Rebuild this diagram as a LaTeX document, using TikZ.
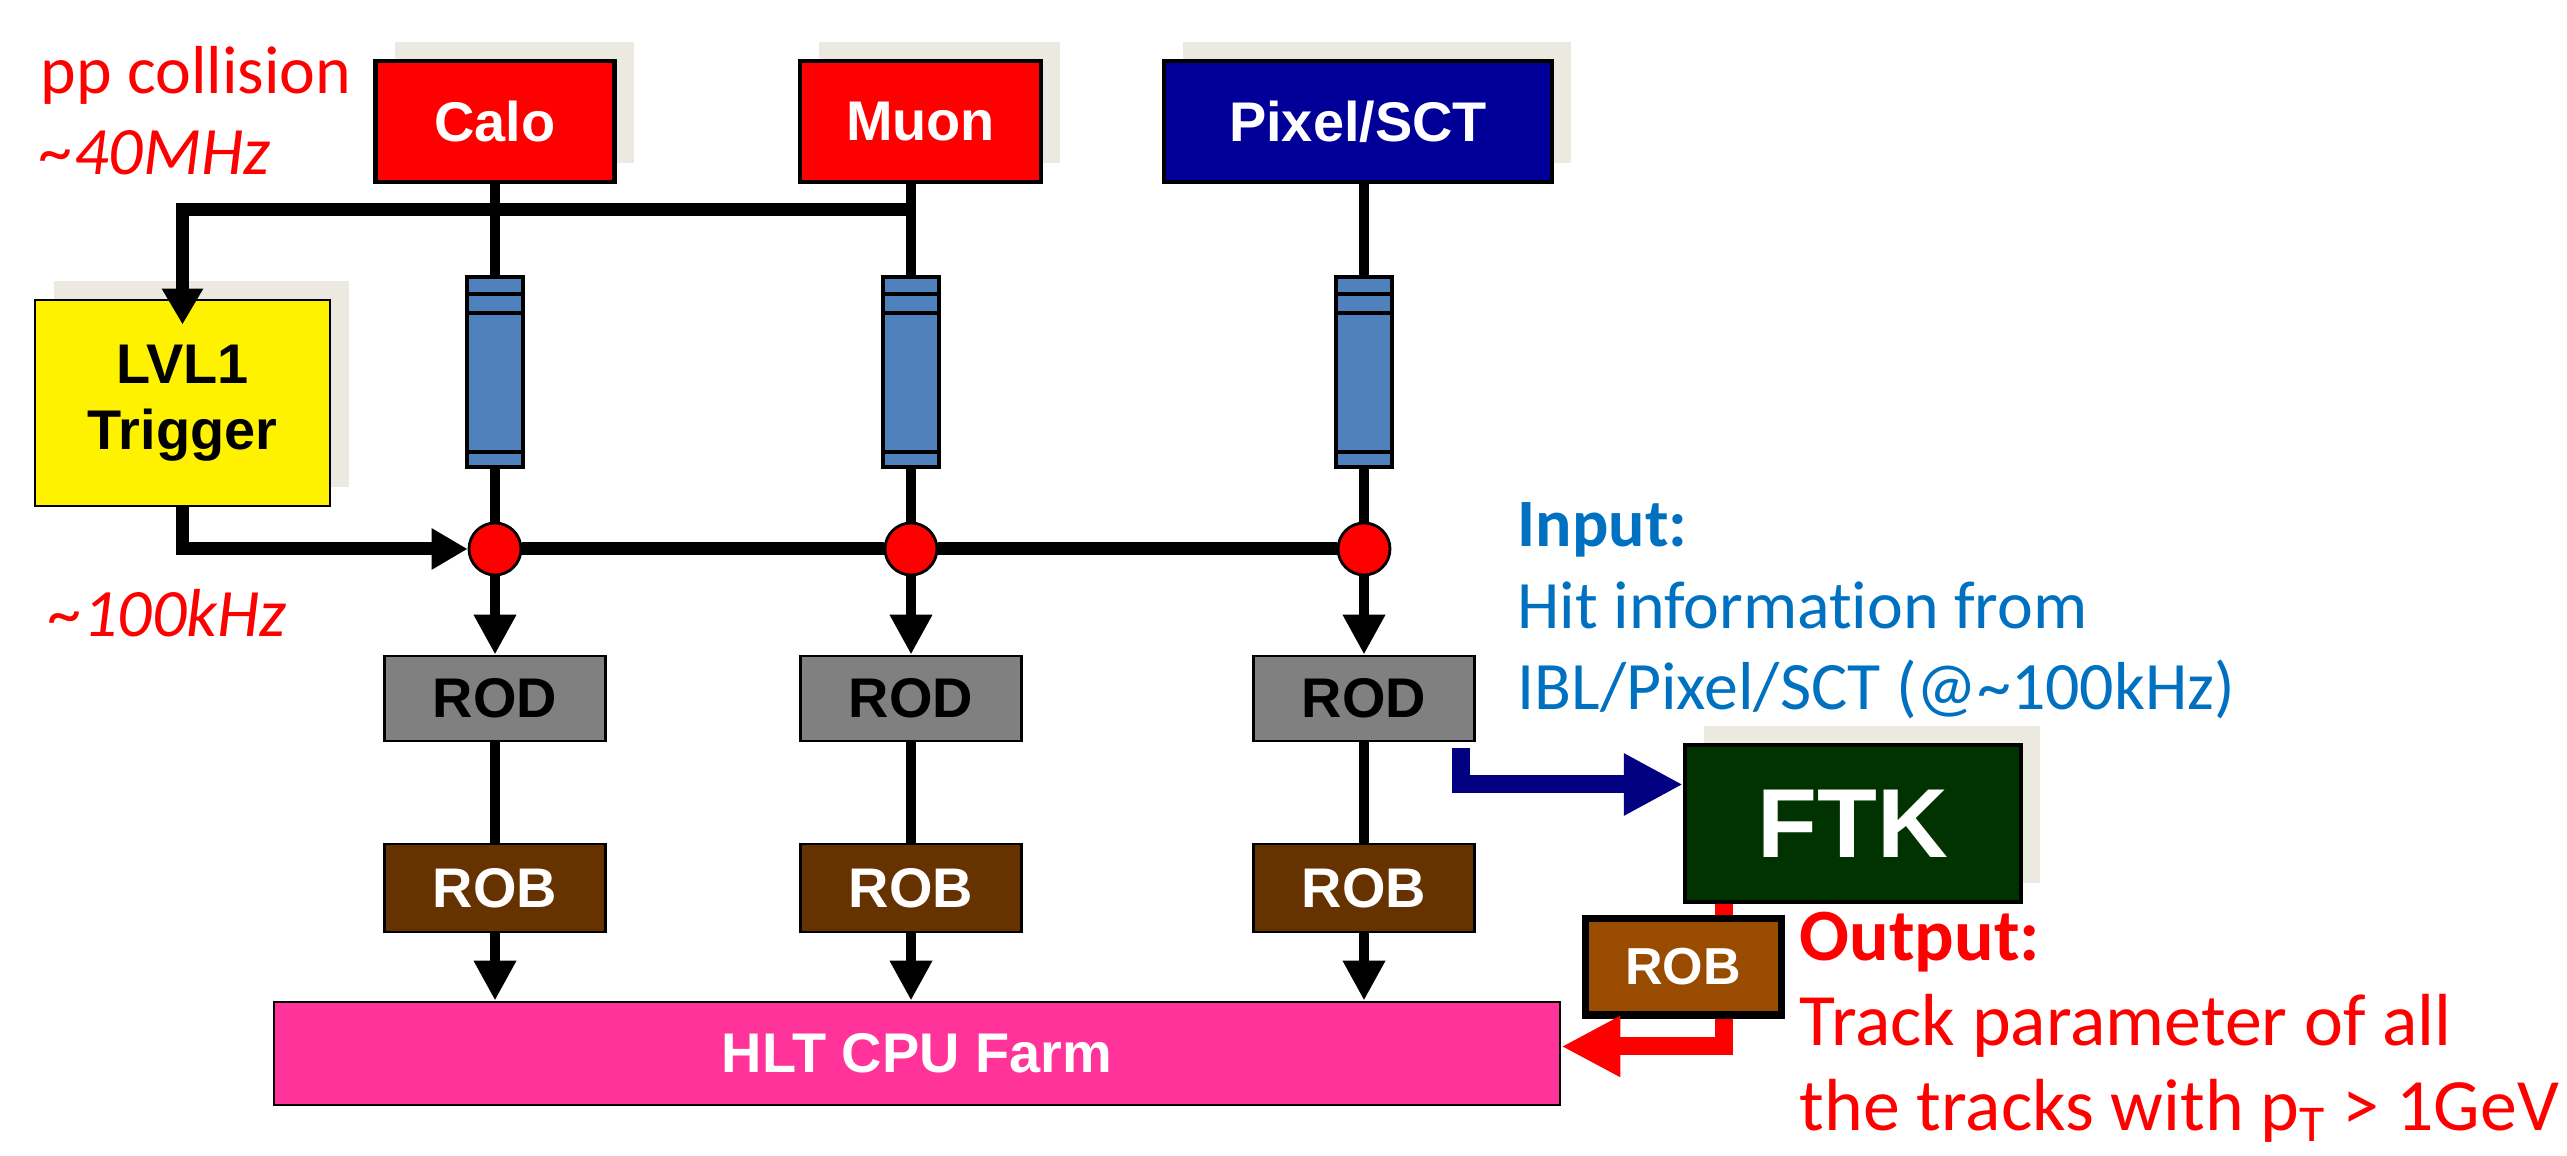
\documentclass[tikz,border=0pt]{standalone}
\usepackage{fontspec}
\setmainfont{Carlito}[Ligatures=NoCommon]
\newfontfamily\arialfont{Liberation Sans}
\usetikzlibrary{arrows.meta,shadows}

\definecolor{shadowbeige}{HTML}{ECEAE0}
\definecolor{pixelblue}{HTML}{000099}
\definecolor{pipeblue}{HTML}{4F81BD}
\definecolor{rodgray}{HTML}{808080}
\definecolor{robbrown}{HTML}{663300}
\definecolor{robamber}{HTML}{994C00}
\definecolor{farmpink}{HTML}{FF3399}
\definecolor{ftkgreen}{HTML}{003300}
\definecolor{linkblue}{HTML}{000080}
\definecolor{inputblue}{HTML}{0070C0}

\begin{document}
\begin{tikzpicture}[
    detector/.style={
        rectangle,
        draw,
        line width=1.2pt,
        minimum height=1.21cm,
        inner sep=0pt,
        text=white,
        font=\arialfont\bfseries\fontsize{15.9}{18.8}\selectfont,
        general shadow={fill=shadowbeige, shadow xshift=0.19cm, shadow yshift=0.19cm}
    },
    trigger/.style={
        detector,
        fill=yellow,
        text=black,
        line width=0.8pt,
        minimum width=2.95cm,
        minimum height=2.06cm,
        align=center
    },
    pipeline/.style={
        rectangle,
        draw,
        line width=1pt,
        fill=pipeblue,
        minimum width=0.56cm,
        minimum height=1.90cm,
        inner sep=0pt,
        path picture={
            \draw[line width=1pt]
                ([yshift=-0.17cm]path picture bounding box.north west) --
                ([yshift=-0.17cm]path picture bounding box.north east)
                ([yshift=-0.36cm]path picture bounding box.north west) --
                ([yshift=-0.36cm]path picture bounding box.north east)
                ([yshift=0.15cm]path picture bounding box.south west) --
                ([yshift=0.15cm]path picture bounding box.south east);
        }
    },
    junction/.style={
        circle,
        draw,
        line width=0.8pt,
        fill=red,
        minimum size=0.52cm,
        inner sep=0pt
    },
    rod/.style={
        rectangle,
        draw,
        line width=0.8pt,
        fill=rodgray,
        minimum width=2.21cm,
        minimum height=0.85cm,
        inner sep=0pt,
        font=\arialfont\bfseries\fontsize{15.9}{18.8}\selectfont
    },
    rob/.style={
        rod,
        fill=robbrown,
        text=white,
        minimum height=0.88cm
    },
    farm/.style={
        rod,
        fill=farmpink,
        text=white,
        minimum width=12.86cm,
        minimum height=1.03cm
    },
    tracker/.style={
        detector,
        fill=ftkgreen,
        minimum width=3.36cm,
        minimum height=1.57cm,
        font=\arialfont\bfseries\fontsize{27.9}{30}\selectfont
    },
    outrob/.style={
        rob,
        fill=robamber,
        line width=2pt,
        minimum width=1.96cm,
        minimum height=0.96cm,
        font=\arialfont\bfseries\fontsize{14.8}{17}\selectfont
    },
    link/.style={
        line width=0.1cm
    },
    flow/.style={
        link,
        -{Triangle[width=0.4cm,length=0.4cm]}
    },
    bus/.style={
        line width=0.13cm
    },
    busflow/.style={
        bus,
        -{Triangle[width=0.39cm,length=0.36cm]}
    },
    inputlink/.style={
        line width=0.18cm,
        linkblue,
        -{Triangle[width=0.58cm,length=0.59cm]}
    },
    outputlink/.style={
        line width=0.18cm,
        red,
        -{Triangle[width=0.57cm,length=0.59cm]}
    },
    note/.style={
        anchor=base west,
        align=left,
        inner sep=0pt,
        font=\fontsize{19.3}{23.3}\selectfont
    }
]

\useasboundingbox (0,0) rectangle (25.67,11.56);

\node[detector, fill=red, minimum width=2.39cm] (calo) at (4.95,10.345) {Calo};
\node[detector, fill=red, minimum width=2.41cm] (muon) at (9.205,10.345) {Muon};
\node[detector, fill=pixelblue, minimum width=3.88cm] (pixel) at (13.58,10.345) {Pixel/SCT};

\node[trigger] (lvl1) at (1.825,7.53) {
    LVL1\\
    Trigger
};

\node[pipeline] (pipeA) at (4.95,7.84) {};
\node[pipeline] (pipeB) at (9.11,7.84) {};
\node[pipeline] (pipeC) at (13.64,7.84) {};

\node[junction] (dotA) at (4.95,6.07) {};
\node[junction] (dotB) at (9.11,6.07) {};
\node[junction] (dotC) at (13.64,6.07) {};

\node[rod] (rodA) at (4.95,4.575) {ROD};
\node[rod] (rodB) at (9.11,4.575) {ROD};
\node[rod] (rodC) at (13.64,4.575) {ROD};

\node[rob] (robA) at (4.95,2.68) {ROB};
\node[rob] (robB) at (9.11,2.68) {ROB};
\node[rob] (robC) at (13.64,2.68) {ROB};

\node[farm] (hlt) at (9.17,1.025) {HLT CPU Farm};

\node[tracker] (ftk) at (18.53,3.325) {FTK};
\node[outrob] (robF) at (16.83,1.89) {ROB};

\coordinate (tapB) at (9.11,9.46);
\coordinate (bluex) at (14.61,0);
\coordinate (redx) at (17.24,0);

\draw[link] (calo) -- (pipeA);
\draw[link] (muon.south -| pipeB) -- (pipeB);
\draw[link] (pixel.south -| pipeC) -- (pipeC);
\draw[busflow, shorten >=-0.26cm] (tapB) -| (lvl1.north);

\foreach \col in {A,B,C} {
    \draw[link] (pipe\col) -- (dot\col);
    \draw[flow] (dot\col) -- (rod\col);
    \draw[link] (rod\col) -- (rob\col);
    \draw[flow] (rob\col) -- (rob\col |- hlt.north);
}

\draw[busflow] (lvl1.south) |- (dotA);
\draw[bus] (dotA) -- (dotB);
\draw[bus] (dotB) -- (dotC);

\draw[inputlink] ([yshift=-0.06cm]bluex |- rodC.south) |- ([yshift=0.39cm]ftk.west);
\draw[line width=0.18cm, red] (redx |- ftk.south) -- (redx |- robF.north);
\draw[outputlink] (redx |- robF.south) |- ([yshift=0.07cm]hlt.east);

\node[note, text=red] (ppnote) at (0.40,9.81) {
    pp collision\\
    \textit{\textasciitilde40MHz}
};
\node[note, text=red] (ratenote) at (0.49,5.19) {\textit{\textasciitilde100kHz}};

\node[note, text=inputblue] (inputnote) at (15.17,4.46) {
    \textbf{Input:}\\
    Hit information from\\
    IBL/Pixel/SCT (@\textasciitilde100kHz)
};
\node[note, text=red, font=\fontsize{21}{24.2}\selectfont] (outputnote) at (17.99,0.25) {
    \textbf{Output:}\\
    Track parameter of all\\
    the tracks with p\textsubscript{T} > 1GeV
};

\end{tikzpicture}
\end{document}
